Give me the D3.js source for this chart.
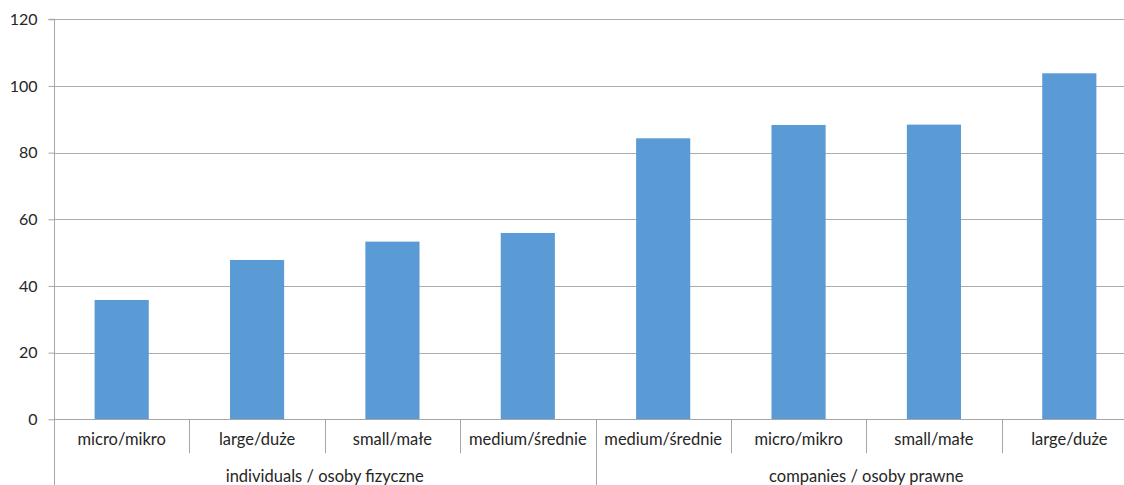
<!DOCTYPE html>
<html>
<head>
<meta charset="utf-8">
<script src="https://cdn.jsdelivr.net/npm/d3@7"></script>
<style>
  html, body { margin: 0; padding: 0; background: #fff; }
  svg { display: block; }
  text { font-family: Lato, "Open Sans", sans-serif; fill: #262626; }
</style>
</head>
<body>
<script>
// Bar chart: values by entity size, grouped into individuals and companies
const categories = ["micro/mikro", "large/duże", "small/małe", "medium/średnie",
                    "medium/średnie", "micro/mikro", "small/małe", "large/duże"];
const groups = ["individuals / osoby fizyczne", "individuals / osoby fizyczne",
                "individuals / osoby fizyczne", "individuals / osoby fizyczne",
                "companies / osoby prawne", "companies / osoby prawne",
                "companies / osoby prawne", "companies / osoby prawne"];
const values = [35.8, 47.8, 53.3, 55.9, 84.3, 88.3, 88.4, 103.8];
const yTicks = [0, 20, 40, 60, 80, 100, 120];

const W = 1124, H = 485;
const margin = { left: 54, right: -13, top: 19.3, bottom: 65.7 };
const x0 = margin.left, x1 = W - margin.right;
const yTop = margin.top, yBot = H - margin.bottom;

const svg = d3.select("body").append("svg").attr("width", W).attr("height", H);

const idx = d3.range(categories.length);
const x = d3.scaleBand().domain(idx).range([x0, x1]).paddingInner(0.6).paddingOuter(0.3);
const xCat = d3.scaleBand().domain(idx).range([x0, x1]);
const y = d3.scaleLinear().domain([0, 120]).range([yBot, yTop]);

// gridlines
svg.append("g").selectAll("line").data(yTicks.filter(d => d > 0)).join("line")
  .attr("x1", x0).attr("x2", x1)
  .attr("y1", d => Math.round(y(d)) + 0.5).attr("y2", d => Math.round(y(d)) + 0.5)
  .attr("stroke", "#ababab").attr("stroke-width", 1);

// bars
svg.append("g").selectAll("rect").data(values).join("rect")
  .attr("x", (d, i) => x(i))
  .attr("width", x.bandwidth())
  .attr("y", d => y(d))
  .attr("height", d => y(0) - y(d))
  .attr("fill", "#5b9bd5");

// y axis
const yAxis = d3.axisLeft(y).tickValues(yTicks).tickSize(6).tickPadding(11);
const gy = svg.append("g").attr("transform", `translate(${x0 + 0.5},0)`).call(yAxis);
gy.select(".domain").attr("stroke", "#a6a6a6").attr("d", `M-6,${yTop}H0V${H}`);
gy.selectAll(".tick line").attr("stroke", "#a6a6a6");
gy.selectAll(".tick text").style("font-size", "16px").style("font-family", "Lato").attr("fill", "#262626");

// x axis baseline
svg.append("line").attr("x1", x0).attr("x2", x1)
  .attr("y1", Math.round(yBot) + 0.5).attr("y2", Math.round(yBot) + 0.5)
  .attr("stroke", "#a6a6a6");

// category separators (short) and group separators (full height)
const bounds = d3.range(1, categories.length).map(i => xCat(i));
svg.append("g").selectAll("line").data(bounds).join("line")
  .attr("x1", d => Math.round(d) + 0.5).attr("x2", d => Math.round(d) + 0.5)
  .attr("y1", yBot)
  .attr("y2", (d, k) => groups[k] !== groups[k + 1] ? H : yBot + 34)
  .attr("stroke", "#a6a6a6");

// category labels
svg.append("g").selectAll("text").data(categories).join("text")
  .attr("x", (d, i) => xCat(i) + xCat.bandwidth() / 2)
  .attr("y", yBot + 26)
  .attr("text-anchor", "middle")
  .style("font-size", "16.5px")
  .text(d => d);

// group labels
const groupNames = Array.from(new Set(groups));
svg.append("g").selectAll("text").data(groupNames).join("text")
  .attr("x", g => {
    const ii = idx.filter(i => groups[i] === g);
    return (xCat(ii[0]) + xCat(ii[ii.length - 1]) + xCat.bandwidth()) / 2;
  })
  .attr("y", yBot + 63)
  .attr("text-anchor", "middle")
  .style("font-size", "16.5px")
  .text(g => g);
</script>
</body>
</html>
